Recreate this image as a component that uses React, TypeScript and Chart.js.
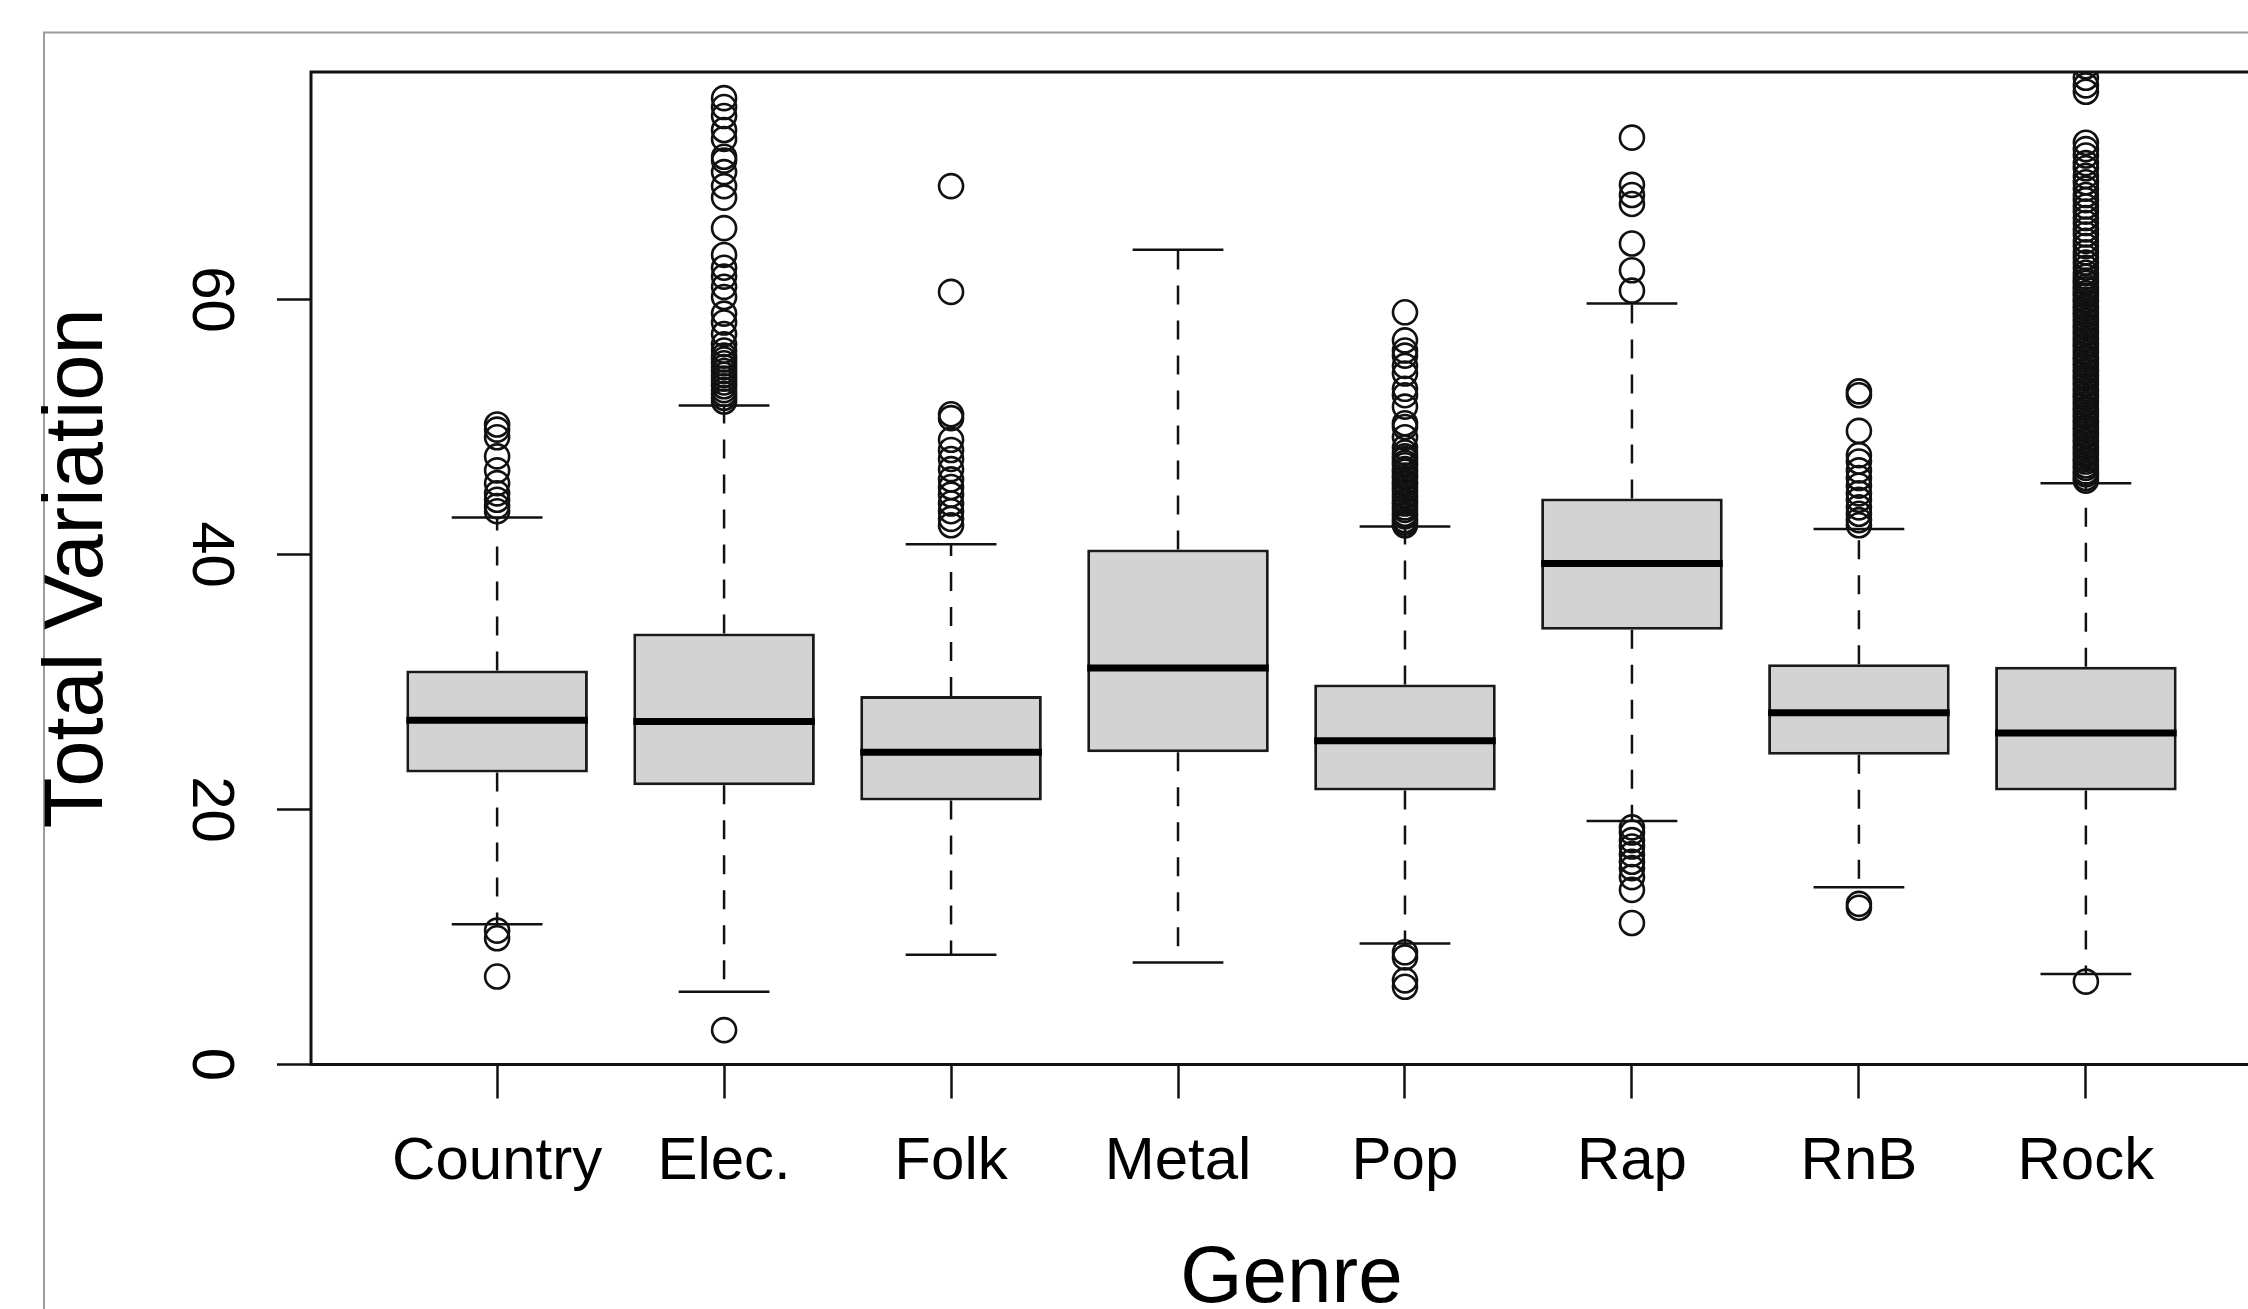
import React, { useEffect, useRef } from "react";
import { Chart, registerables } from "chart.js";

Chart.register(...registerables);

// ---------- data ----------
const CATEGORIES = ["Country", "Elec.", "Folk", "Metal", "Pop", "Rap", "RnB", "Rock"];
const LOWER_WHISKER = [11.0, 5.7, 8.6, 8.0, 9.5, 19.1, 13.9, 7.1];
const Q1 = [22.9, 21.9, 20.7, 24.5, 21.5, 34.1, 24.3, 21.5];
const MEDIAN = [27.0, 26.9, 24.5, 31.1, 25.4, 39.3, 27.6, 26.0];
const Q3 = [30.9, 33.8, 28.9, 40.4, 29.8, 44.4, 31.4, 31.2];
const UPPER_WHISKER = [42.9, 51.7, 40.8, 63.9, 42.2, 59.7, 42.0, 45.6];

const COUNTRY_OUT = [50.2, 49.8, 49.2, 47.7, 46.6, 45.6, 44.8, 44.3, 43.8, 43.4, 10.5, 9.9, 6.9];
const ELEC_OUT = [
  75.8, 75.1, 74.4, 73.3, 72.6, 71.2, 70.9, 70.0, 68.9, 68.0, 65.6, 63.5, 62.5, 61.8, 61.0, 60.2,
  58.9, 58.2, 57.3, 56.5, 56.0, 55.6, 55.3, 55.0, 54.7, 54.4, 54.1, 53.8, 53.5, 53.2, 52.9, 52.6,
  52.3, 52.0, 2.7,
];
const FOLK_OUT = [68.9, 60.6, 51.0, 50.7, 49.0, 48.2, 47.5, 46.7, 45.9, 45.3, 44.7, 44.0, 43.4, 42.8, 42.3];
const METAL_OUT: number[] = [];
const POP_OUT = [
  59.0, 56.8, 56.0, 55.6, 54.8, 54.2, 53.0, 52.5, 51.6, 50.3, 50.0, 49.2, 48.4, 48.0, 47.7, 47.5,
  47.2, 47.0, 46.7, 46.5, 46.2, 46.0, 45.7, 45.5, 45.2, 45.0, 44.7, 44.5, 44.2, 44.0, 43.7, 43.5,
  43.2, 43.0, 42.7, 42.5, 42.3, 8.8, 8.4, 6.6, 6.1,
];
const RAP_OUT = [72.7, 69.0, 68.2, 67.5, 64.4, 62.3, 60.7, 18.6, 18.2, 17.6, 17.1, 16.5, 15.9, 15.4, 14.7, 13.7, 11.1];
const RNB_OUT = [52.8, 52.5, 49.7, 47.8, 47.3, 46.6, 46.0, 45.4, 44.8, 44.3, 43.7, 43.2, 42.7, 42.3, 12.6, 12.3];
const ROCK_OUT = [
  78.3, 77.4, 76.8, 76.3, 72.3, 71.8, 71.3, 70.7, 70.3, 69.7, 69.2, 68.7, 68.2, 67.8, 67.3, 66.9,
  66.4, 66.0, 65.5, 65.1, 64.6, 64.2, 63.7, 63.3, 62.9, 62.5, 62.1, 61.8, 61.5, 61.3, 61.0, 60.8,
  60.5, 60.3, 60.0, 59.8, 59.5, 59.3, 59.0, 58.8, 58.5, 58.3, 58.0, 57.8, 57.5, 57.3, 57.0, 56.8,
  56.5, 56.3, 56.0, 55.8, 55.5, 55.3, 55.0, 54.8, 54.5, 54.3, 54.0, 53.8, 53.5, 53.3, 53.0, 52.8,
  52.5, 52.3, 52.0, 51.8, 51.5, 51.3, 51.0, 50.8, 50.5, 50.3, 50.0, 49.8, 49.5, 49.3, 49.0, 48.8,
  48.5, 48.3, 48.0, 47.8, 47.5, 47.3, 47.0, 46.8, 46.5, 46.3, 46.0, 45.8, 6.5,
];
const OUTLIERS = [COUNTRY_OUT, ELEC_OUT, FOLK_OUT, METAL_OUT, POP_OUT, RAP_OUT, RNB_OUT, ROCK_OUT];

const Y_TICKS = [0, 20, 40, 60];
const Y_MIN = 0;
const Y_MAX = 77.85;
const X_MIN = 0.18;
const X_MAX = 8.82;
const BOX_WIDTH = 0.8;
const STAPLE_WIDTH = 0.4;

const X_TITLE = "Genre";
const Y_TITLE = "Total Variation";

// ---------- layout ----------
const CANVAS_W = 2320;
const CANVAS_H = 1360;
const FONT = "'Liberation Sans', Arial, Helvetica, sans-serif";
const INK = "#111";

export default function App() {
  const ref = useRef<HTMLCanvasElement>(null);

  useEffect(() => {
    const pos = (i: number) => i + 1;

    const boxData = CATEGORIES.map((_, i) => ({ x: pos(i), y: [Q1[i], Q3[i]] }));

    const whiskerData: any[] = [];
    const capData: any[] = [];
    const medianData: any[] = [];
    CATEGORIES.forEach((_, i) => {
      const x = pos(i);
      whiskerData.push({ x, y: Q3[i] }, { x, y: UPPER_WHISKER[i] }, { x, y: null });
      whiskerData.push({ x, y: Q1[i] }, { x, y: LOWER_WHISKER[i] }, { x, y: null });
      const h = STAPLE_WIDTH / 2;
      capData.push({ x: x - h, y: UPPER_WHISKER[i] }, { x: x + h, y: UPPER_WHISKER[i] }, { x, y: null });
      capData.push({ x: x - h, y: LOWER_WHISKER[i] }, { x: x + h, y: LOWER_WHISKER[i] }, { x, y: null });
      const b = BOX_WIDTH / 2;
      medianData.push({ x: x - b, y: MEDIAN[i] }, { x: x + b, y: MEDIAN[i] }, { x, y: null });
    });

    const outlierData: any[] = [];
    OUTLIERS.forEach((arr, i) => arr.forEach((v) => outlierData.push({ x: pos(i), y: v })));

    const decor = {
      id: "decor",
      beforeDraw(chart: any) {
        const ctx = chart.ctx;
        ctx.save();
        ctx.strokeStyle = "#9c9c9c";
        ctx.lineWidth = 2;
        ctx.strokeRect(44, 32.5, 5000, 5000);
        ctx.restore();
      },
      afterDraw(chart: any) {
        const { left, top, right, bottom } = chart.chartArea;
        const ctx = chart.ctx;
        ctx.save();
        ctx.strokeStyle = INK;
        ctx.lineWidth = 3;
        ctx.strokeRect(left, top, right - left, bottom - top);
        ctx.restore();
      },
    };

    const chart = new Chart(ref.current as HTMLCanvasElement, {
      type: "bar",
      data: {
        datasets: [
          {
            type: "bar",
            data: boxData as any,
            backgroundColor: "#d3d3d3",
            borderColor: "#1a1a1a",
            borderWidth: 3,
            borderSkipped: false,
            barPercentage: BOX_WIDTH,
            categoryPercentage: 1,
            order: 5,
          } as any,
          {
            type: "line",
            data: whiskerData,
            borderColor: INK,
            borderWidth: 2.5,
            borderDash: [19, 16],
            borderCapStyle: "butt",
            pointRadius: 0,
            fill: false,
            spanGaps: false,
            tension: 0,
            order: 4,
          } as any,
          {
            type: "line",
            data: capData,
            borderColor: INK,
            borderWidth: 2.5,
            pointRadius: 0,
            fill: false,
            spanGaps: false,
            tension: 0,
            order: 3,
          } as any,
          {
            type: "line",
            data: medianData,
            borderColor: "#000",
            borderWidth: 7,
            borderCapStyle: "butt",
            pointRadius: 0,
            fill: false,
            spanGaps: false,
            tension: 0,
            order: 2,
          } as any,
          {
            type: "scatter",
            data: outlierData,
            pointStyle: "circle",
            pointRadius: 12,
            pointBorderWidth: 2.6,
            pointBorderColor: INK,
            pointBackgroundColor: "rgba(0,0,0,0)",
            showLine: false,
            clip: 0,
            order: 1,
          } as any,
        ],
      },
      options: {
        responsive: false,
        maintainAspectRatio: false,
        devicePixelRatio: 1,
        animation: false,
        events: [],
        layout: { padding: { left: 0, top: 72, right: CANVAS_W - 2272, bottom: 0 } },
        plugins: { legend: { display: false }, tooltip: { enabled: false } },
        scales: {
          x: {
            type: "linear",
            min: X_MIN,
            max: X_MAX,
            offset: false,
            afterBuildTicks: (axis: any) => {
              axis.ticks = CATEGORIES.map((_, i) => ({ value: pos(i) }));
            },
            afterFit: (scale: any) => {
              scale.height = CANVAS_H - 1064.5;
            },
            grid: {
              display: true,
              offset: false,
              drawOnChartArea: false,
              drawTicks: true,
              tickLength: 34,
              tickColor: INK,
              tickWidth: 2.5,
            },
            border: { display: false },
            ticks: {
              autoSkip: false,
              maxRotation: 0,
              minRotation: 0,
              padding: 28,
              color: "#000",
              font: { family: FONT, size: 60 },
              callback: (_v: any, idx: number) => CATEGORIES[idx],
            },
            title: {
              display: true,
              text: X_TITLE,
              color: "#000",
              font: { family: FONT, size: 80 },
              padding: { top: 0, bottom: 32 },
            },
          },
          y: {
            type: "linear",
            min: Y_MIN,
            max: Y_MAX,
            afterBuildTicks: (axis: any) => {
              axis.ticks = Y_TICKS.map((v) => ({ value: v }));
            },
            afterFit: (scale: any) => {
              scale.width = 311;
            },
            grid: {
              display: true,
              drawOnChartArea: false,
              drawTicks: true,
              tickLength: 34,
              tickColor: INK,
              tickWidth: 2.5,
            },
            border: { display: false },
            ticks: {
              minRotation: -90,
              maxRotation: -90,
              crossAlign: "center",
              padding: 34,
              color: "#000",
              font: { family: FONT, size: 60 },
              callback: (v: any) => String(v),
            },
            title: {
              display: true,
              text: Y_TITLE,
              color: "#000",
              font: { family: FONT, size: 83 },
              padding: { top: 29, bottom: 0 },
            },
          },
        },
      } as any,
      plugins: [decor],
    });

    return () => chart.destroy();
  }, []);

  return (
    <div
      style={{
        position: "absolute",
        left: 0,
        top: 0,
        width: 2248,
        height: 1309,
        overflow: "hidden",
        background: "#fff",
      }}
    >
      <canvas
        ref={ref}
        width={CANVAS_W}
        height={CANVAS_H}
        style={{ display: "block", width: CANVAS_W, height: CANVAS_H }}
      />
    </div>
  );
}
